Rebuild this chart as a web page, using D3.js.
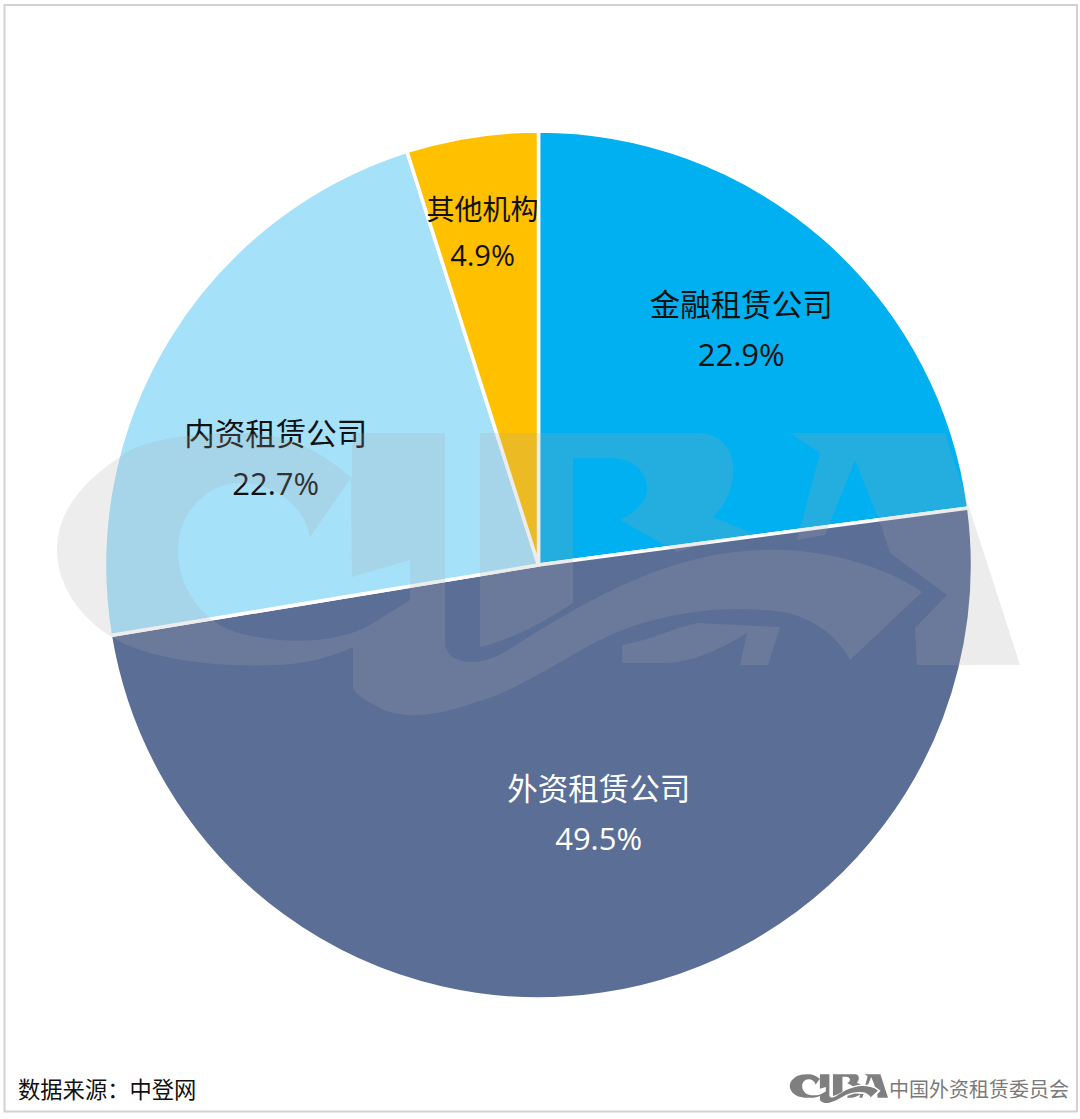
<!DOCTYPE html>
<html>
<head>
<meta charset="utf-8">
<script src="https://cdn.jsdelivr.net/npm/d3@7"></script>
<style>
  html, body { margin: 0; padding: 0; background: #fff; }
  text { font-family: "Open Sans", "Noto Sans CJK SC", sans-serif; }
</style>
</head>
<body>
<div id="chart"></div>
<script>
// Data
const categories = ['金融租赁公司', '外资租赁公司', '内资租赁公司', '其他机构'];
const shares = [22.9, 49.5, 22.7, 4.9];
const sliceColors = ['#00B0F0', '#5B6E96', '#A6E1FA', '#FFC000'];
const labelColors = ['#111', '#fff', '#111', '#111'];

const width = 1080, height = 1119;
const cx = 538.5, cy = 565, radius = 434;

// label nudges from the arc centroid, same order as categories
const labelNudge = [[5, -11], [16, -50], [-7, 49], [-10, -38]];

// CIBA logo outlines, used for the big watermark and the small footer logo
const logoPaths = [
    // C + I + swoosh
    'M120,457 C140,440 190,433 240,433 C285,433 320,450 350,477 L352,477 L352,433 L445,433 L445,645 ' +
    'C447,657 458,662 472,662 C495,662 515,645 535,633 C590,600 670,552 763,550 C810,548 875,560 922,592 ' +
    'L850,660 C835,630 800,610 763,610 C700,605 640,620 600,640 C560,660 520,690 473,703 ' +
    'C440,715 400,722 375,705 C358,697 353,690 353,687 L353,647 C330,658 300,665 273,665 ' +
    'C200,668 140,655 112,637 C80,618 57,585 57,550 C57,510 85,480 120,457 Z ' +
    'M351,478 L310,537 C305,510 280,483 240,483 C205,483 178,515 178,550 C178,590 205,622 235,632 ' +
    'C280,645 340,645 375,622 C390,612 403,605 410,600 L410,560 L352,577 Z',
    // R
    'M480,433 L697,433 C725,433 736,455 733,477 C731,495 722,508 713,517 L757,535 C725,538 700,545 677,552 ' +
    'L620,520 C640,510 648,498 647,487 C645,468 630,458 610,458 L573,458 L573,603 C545,622 510,640 480,647 Z',
    // R foot
    'M622,645 C650,640 675,628 697,623 L780,627 L768,665 L740,665 L747,633 C735,640 700,663 663,663 L622,663 Z',
    // A
    'M790,433 L945,433 L1020,665 L917,665 L915,628 L947,595 L890,553 L880,523 L855,460 L825,535 L797,540 L820,453 Z'
];

const svg = d3.select('#chart')
    .append('svg')
    .attr('width', width)
    .attr('height', height)
    .style('display', 'block');

// Frame
svg.append('rect')
    .attr('x', 4.5)
    .attr('y', 5)
    .attr('width', 1072.5)
    .attr('height', 1106.5)
    .attr('fill', '#fff')
    .attr('stroke', '#d2d2d2')
    .attr('stroke-width', 2);

// Pie
const pie = d3.pie().sort(null).value(d => d.value);
const arc = d3.arc().innerRadius(0).outerRadius(radius);
const labelArc = d3.arc().innerRadius(300).outerRadius(300);

const slices = pie(categories.map((name, i) => ({ name: name, value: shares[i], index: i })));

const g = svg.append('g').attr('transform', 'translate(' + cx + ',' + cy + ')');

g.selectAll('.slice')
    .data(slices).enter()
    .append('path')
    .attr('class', 'slice')
    .attr('d', arc)
    .attr('fill', d => sliceColors[d.data.index])
    .attr('stroke', '#fff')
    .attr('stroke-width', 3.5)
    .attr('stroke-linejoin', 'round');

// Watermark sits over the pie
const watermark = svg.append('g').attr('opacity', 0.21).attr('fill', '#a9a9a9');
logoPaths.forEach(p => {
    watermark.append('path').attr('d', p).attr('fill-rule', 'evenodd');
});

// Slice labels
const labels = g.selectAll('.label')
    .data(slices).enter()
    .append('g')
    .attr('class', 'label')
    .attr('transform', d => {
        const c = labelArc.centroid(d);
        const n = labelNudge[d.data.index];
        return 'translate(' + (c[0] + n[0]) + ',' + (c[1] + n[1]) + ')';
    })
    .attr('fill', d => labelColors[d.data.index])
    .attr('text-anchor', 'middle');

labels.append('text')
    .attr('y', d => d.data.index === 3 ? -23 : -25)
    .attr('dominant-baseline', 'central')
    .style('font-size', d => d.data.index === 3 ? '28px' : '30.5px')
    .style('font-family', '"Noto Sans CJK SC", sans-serif')
    .text(d => d.data.name);

labels.append('text')
    .attr('y', d => d.data.index === 3 ? 24 : 26)
    .attr('dominant-baseline', 'central')
    .style('font-size', d => d.data.index === 3 ? '29px' : '31px')
    .text(d => d3.format('.1f')(d.data.value) + '%');

// Footer
svg.append('text')
    .attr('x', 18)
    .attr('y', 1098)
    .style('font-family', '"Noto Sans CJK SC", sans-serif')
    .style('font-size', '22.3px')
    .attr('fill', '#111')
    .text('数据来源：中登网');

const smallLogo = svg.append('g')
    .attr('transform', 'translate(784,1030) scale(0.102)')
    .attr('fill', '#7f7f7f');
logoPaths.forEach(p => {
    smallLogo.append('path').attr('d', p).attr('fill-rule', 'evenodd');
});

svg.append('text')
    .attr('x', 889)
    .attr('y', 1097)
    .style('font-family', '"Noto Sans CJK SC", sans-serif')
    .style('font-size', '20px')
    .attr('fill', '#7a7a7a')
    .text('中国外资租赁委员会');
</script>
</body>
</html>
